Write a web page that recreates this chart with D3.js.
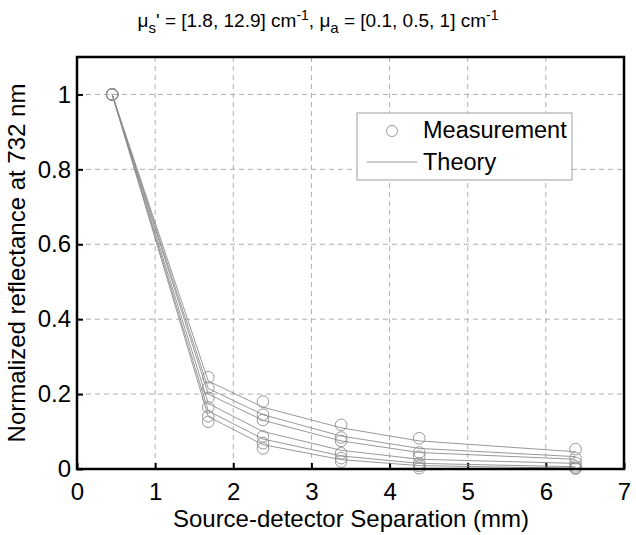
<!DOCTYPE html>
<html><head><meta charset="utf-8">
<script src="https://cdn.jsdelivr.net/npm/d3@7"></script>
<style>body{margin:0;background:#fff;} svg{display:block;font-family:"Liberation Sans",Arial,sans-serif;}</style>
</head><body>
<svg id="c" width="636" height="535"></svg>
<script>
const separations = [0.45, 1.68, 2.38, 3.38, 4.38, 6.38];
const measured = [
  [1, 0.245, 0.180, 0.118, 0.082, 0.053],
  [1, 0.217, 0.145, 0.084, 0.044, 0.029],
  [1, 0.190, 0.131, 0.075, 0.033, 0.016],
  [1, 0.165, 0.087, 0.042, 0.015, 0.007],
  [1, 0.141, 0.069, 0.029, 0.008, 0.003],
  [1, 0.126, 0.055, 0.020, 0.002, 0.001]
];
const theory = [
  [1, 0.235, 0.165, 0.110, 0.075, 0.046],
  [1, 0.215, 0.145, 0.088, 0.055, 0.033],
  [1, 0.200, 0.130, 0.075, 0.044, 0.026],
  [1, 0.175, 0.100, 0.050, 0.026, 0.015],
  [1, 0.155, 0.080, 0.035, 0.015, 0.006],
  [1, 0.140, 0.065, 0.025, 0.009, 0.002]
];
const xTicks = [0,1,2,3,4,5,6,7];
const yTicks = [0,0.2,0.4,0.6,0.8,1];
const legendLabels = ["Measurement","Theory"];

const svg = d3.select("#c");
const L=77, R=624, T=57, B=469;
const x = d3.scaleLinear().domain([0,7]).range([L,R]);
const y = d3.scaleLinear().domain([0,1.1]).range([B,T]);

// grid
const g = svg.append("g");
g.selectAll(".gx").data(xTicks.slice(1,-1)).enter().append("line")
  .attr("x1",d=>x(d)).attr("x2",d=>x(d)).attr("y1",T).attr("y2",B)
  .attr("stroke","#b0b0b0").attr("stroke-dasharray","5,4").attr("stroke-width",1);
g.selectAll(".gy").data(yTicks.slice(1)).enter().append("line")
  .attr("x1",L).attr("x2",R).attr("y1",d=>y(d)).attr("y2",d=>y(d))
  .attr("stroke","#b0b0b0").attr("stroke-dasharray","5,4").attr("stroke-width",1);

// axes
const xa = svg.append("g").attr("transform",`translate(0,${B})`)
  .call(d3.axisBottom(x).tickValues(xTicks).tickFormat(d3.format("d")).tickSizeInner(-6).tickSizeOuter(0).tickPadding(14));
const ya = svg.append("g").attr("transform",`translate(${L},0)`)
  .call(d3.axisLeft(y).tickValues(yTicks).tickFormat(d=>d===0?"0":d===1?"1":d3.format(".1f")(d)).tickSizeInner(-6).tickSizeOuter(0).tickPadding(6));
[xa,ya].forEach(a=>{
  a.select(".domain").remove();
  a.selectAll("line").attr("stroke","#000").attr("stroke-width",2);
  a.selectAll("text").attr("font-size",24).attr("fill","#000").attr("font-family","Liberation Sans, Arial, sans-serif");
});
xa.selectAll("text").attr("dy","0.71em");

// theory lines
const line = d3.line().x((d,i)=>x(separations[i])).y(d=>y(d));
svg.append("clipPath").attr("id","cp").append("rect").attr("x",L).attr("y",T).attr("width",R-L).attr("height",B-T);
svg.append("g").attr("clip-path","url(#cp)").selectAll("path").data(theory).enter().append("path")
  .attr("d",line).attr("fill","none").attr("stroke","#8c8c8c").attr("stroke-width",0.9);

// measurements
const pts = [];
measured.forEach(s=>s.forEach((v,i)=>pts.push([separations[i],v])));
svg.append("g").selectAll("circle").data(pts).enter().append("circle")
  .attr("cx",d=>x(d[0])).attr("cy",d=>y(d[1])).attr("r",5.8)
  .attr("fill","none").attr("stroke","#8c8c8c").attr("stroke-width",0.9);

// frame
svg.append("rect").attr("x",L).attr("y",T).attr("width",R-L).attr("height",B-T)
  .attr("fill","none").attr("stroke","#000").attr("stroke-width",2.5);

// legend
const lg = svg.append("g");
lg.append("rect").attr("x",357).attr("y",113).attr("width",215).attr("height",67)
  .attr("fill","#fff").attr("stroke","#a0a0a0").attr("stroke-width",1);
lg.append("circle").attr("cx",392).attr("cy",131).attr("r",5.5).attr("fill","none").attr("stroke","#8c8c8c").attr("stroke-width",0.9);
lg.append("line").attr("x1",367).attr("x2",417).attr("y1",162).attr("y2",162).attr("stroke","#8c8c8c").attr("stroke-width",0.9);
lg.selectAll("text").data(legendLabels).enter().append("text")
  .attr("x",423).attr("y",(d,i)=>138+i*32).attr("font-size",23.5).attr("fill","#000").text(d=>d);

// title
const t = svg.append("text").attr("x",318).attr("y",27).attr("text-anchor","middle").attr("font-size",19).attr("fill","#000");
t.append("tspan").text("\u03bc");
t.append("tspan").attr("dy",6).attr("font-size",15).text("s");
t.append("tspan").attr("dy",-6).text("' = [1.8, 12.9] cm");
t.append("tspan").attr("dy",-7).attr("font-size",14).text("-1");
t.append("tspan").attr("dy",7).text(", \u03bc");
t.append("tspan").attr("dy",6).attr("font-size",15).text("a");
t.append("tspan").attr("dy",-6).text(" = [0.1, 0.5, 1] cm");
t.append("tspan").attr("dy",-7).attr("font-size",14).text("-1");

// axis labels
svg.append("text").attr("x",351).attr("y",527).attr("text-anchor","middle").attr("font-size",24).attr("fill","#000").text("Source-detector Separation (mm)");
svg.append("text").attr("transform","translate(25,263) rotate(-90)").attr("text-anchor","middle").attr("font-size",24).attr("fill","#000").text("Normalized reflectance at 732 nm");
</script>
</body></html>
